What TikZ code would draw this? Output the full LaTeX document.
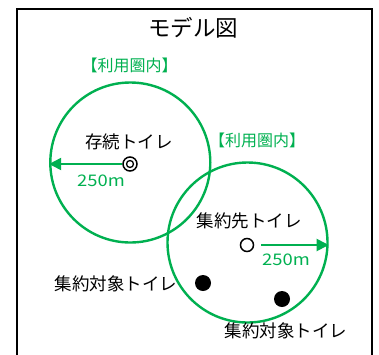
\documentclass[tikz,border=0pt]{standalone}
\usepackage{fontspec}
\setmainfont{Noto Sans CJK JP}
\usetikzlibrary{arrows.meta}
\definecolor{zgreen}{HTML}{00B050}
\tikzset{
  area/.style={circle, draw=zgreen, line width=2.4pt, minimum size=160pt, inner sep=0pt},
  radarrow/.style={draw=zgreen, line width=2pt, -{Triangle[length=12pt,width=12pt]}},
  lbl/.style={font=\fontsize{17.5pt}{18pt}\selectfont, text=black, inner sep=0pt},
  glbl/.style={font=\fontsize{16pt}{17pt}\selectfont, text=zgreen, inner sep=0pt},
  dist/.style={font=\fontsize{16pt}{17pt}\selectfont, text=zgreen, inner sep=0pt, xscale=1.15},
  dot/.style={circle, fill=black, minimum size=16pt, inner sep=0pt},
  ring/.style={circle, draw=black, line width=1.5pt, fill=white, inner sep=0pt},
}
\begin{document}
\begin{tikzpicture}[x=1pt,y=-1pt]
\useasboundingbox (0,0) rectangle (379,354);
\draw[line width=1.3pt] (17,356) -- (17,9) -- (372,9) -- (372,356);
\node[font=\fontsize{22.5pt}{24pt}\selectfont, inner sep=0pt] (title) at (193,28) {モデル図};
% circles
\node[area] (c1) at (130.3,162.5) {};
\node[area] (c2) at (247.5,242.5) {};
% markers
\node[ring, minimum size=14pt] (m1) at (130,164) {};
\node[ring, minimum size=7pt, line width=1.3pt] (m1i) at (130,164) {};
\node[ring, minimum size=13pt] (m2) at (247,245) {};
\node[dot] (d1) at (203,283) {};
\node[dot] (d2) at (282,299) {};
% arrows
\draw[radarrow] (m1.west) -- (c1.west |- m1.west);
\coordinate (e2) at (c2.east |- m2.east);
\draw[radarrow] ([xshift=7pt]m2.east) -- (e2);
% labels
\node[glbl] (g1) at (129.5,65) {【利用圏内】};
\node[glbl] (g2) at (257,140) {【利用圏内】};
\node[lbl] (t1) at (129,142) {存続トイレ};
\node[dist] (r1) at (101,181) {250m};
\node[lbl] (t2) at (249,221) {集約先トイレ};
\node[dist] (r2) at (286,260) {250m};
\node[lbl] (t3) at (116,284) {集約対象トイレ};
\node[lbl] (t4) at (286,331) {集約対象トイレ};
\end{tikzpicture}
\end{document}
